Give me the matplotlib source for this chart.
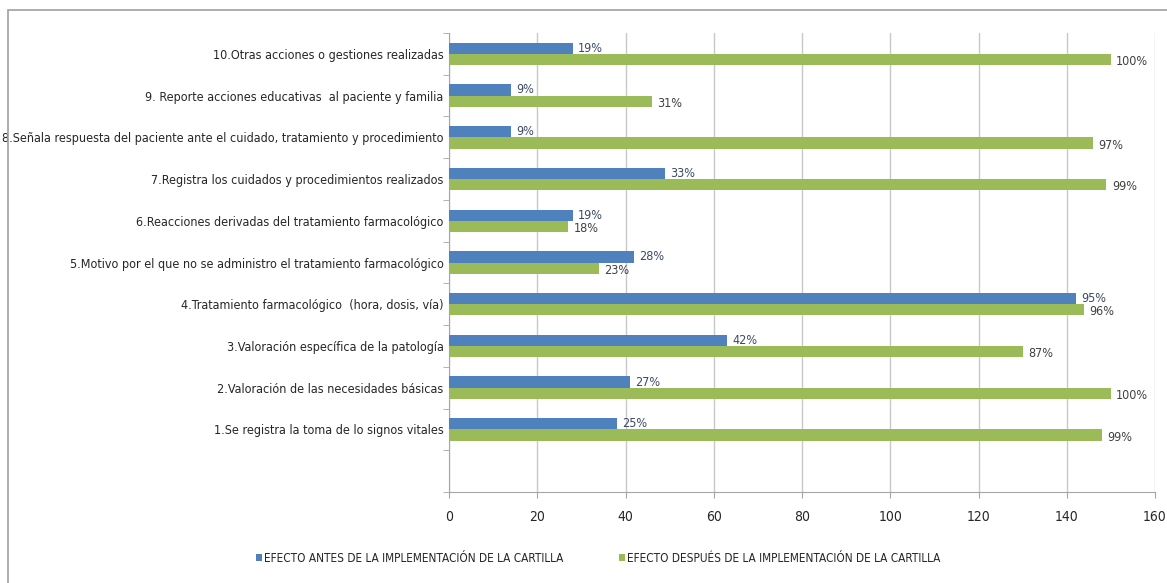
import matplotlib
matplotlib.use("Agg")
import matplotlib.pyplot as plt
from matplotlib.patches import Rectangle
from matplotlib.ticker import FixedLocator
import numpy as np

categories = [
    "",
    "1.Se registra la toma de lo signos vitales",
    "2.Valoración de las necesidades básicas",
    "3.Valoración específica de la patología",
    "4.Tratamiento farmacológico  (hora, dosis, vía)",
    "5.Motivo por el que no se administro el tratamiento farmacológico",
    "6.Reacciones derivadas del tratamiento farmacológico",
    "7.Registra los cuidados y procedimientos realizados",
    "8.Señala respuesta del paciente ante el cuidado, tratamiento y procedimiento",
    "9. Reporte acciones educativas  al paciente y familia",
    "10.Otras acciones o gestiones realizadas",
]
antes = [None, 38, 41, 63, 142, 42, 28, 49, 14, 14, 28]
despues = [None, 148, 150, 130, 144, 34, 27, 149, 146, 46, 150]
antes_lbl = [None, "25%", "27%", "42%", "95%", "28%", "19%", "33%", "9%", "9%", "19%"]
despues_lbl = [None, "99%", "100%", "87%", "96%", "23%", "18%", "99%", "97%", "31%", "100%"]
series_names = ["EFECTO ANTES DE LA IMPLEMENTACIÓN DE LA CARTILLA",
                "EFECTO DESPUÉS DE LA IMPLEMENTACIÓN DE LA CARTILLA"]
xticks = [0, 20, 40, 60, 80, 100, 120, 140, 160]

plt.rcParams["font.family"] = ["DejaVu Sans"]
plt.rcParams["font.stretch"] = "condensed"

BLUE = "#4F81BD"
GREEN = "#9BBB59"
TXT = "#404040"

fig = plt.figure(figsize=(11.67, 5.83), dpi=100)
ax = fig.add_axes([449/1167, 1-492/583, (1155-449)/1167, (492-33)/583])

fig.patches.append(Rectangle((8/1167, -0.05), 1.2, 1-10/583+0.05, transform=fig.transFigure,
                             fill=False, edgecolor="#A0A0A0", linewidth=1.2))

idx = [i for i in range(len(categories)) if antes[i] is not None]
y = np.array(idx, dtype=float)
h = 0.27
off = 0.135
a_vals = [antes[i] for i in idx]
d_vals = [despues[i] for i in idx]
ax.barh(y + off, a_vals, height=h, color=BLUE, label=series_names[0], zorder=3)
ax.barh(y - off, d_vals, height=h, color=GREEN, label=series_names[1], zorder=3)

for i in idx:
    ax.text(antes[i] + 1.2, i + off, antes_lbl[i], va="center", ha="left",
            fontsize=9, color="#3A4A66", zorder=4)
    ax.text(despues[i] + 1.2, i - off - 0.05, despues_lbl[i], va="center", ha="left",
            fontsize=9, color=TXT, zorder=4)

ax.set_xlim(0, 160)
ax.set_ylim(-0.5, len(categories) - 0.5)
ax.set_xticks(xticks)
ax.set_xticklabels([str(t) for t in xticks])
ax.set_yticks(range(len(categories)))
ax.set_yticklabels(categories)
ax.yaxis.set_minor_locator(FixedLocator(np.arange(-0.5, len(categories), 1.0)))
ax.tick_params(axis="y", which="major", length=0, pad=4, labelsize=9, labelcolor="#262626")
ax.tick_params(axis="y", which="minor", length=4, color="#A6A6A6", direction="out")
ax.tick_params(axis="x", length=4, color="#A6A6A6", pad=9, labelsize=10, labelcolor="#262626")

ax.grid(axis="x", color="#C8C8C8", linewidth=1.0, zorder=0)
for s in ["top", "right"]:
    ax.spines[s].set_visible(False)
for s in ["left", "bottom"]:
    ax.spines[s].set_color("#A6A6A6")

leg = fig.legend(loc="center", bbox_to_anchor=(598/1167, 1-558/583), ncol=2, frameon=False,
                 fontsize=8.5, handlelength=0.5, handleheight=0.5, handletextpad=0.2,
                 columnspacing=4.7)
for t in leg.get_texts():
    t.set_color("#262626")

fig.savefig("out.png", dpi=100)
